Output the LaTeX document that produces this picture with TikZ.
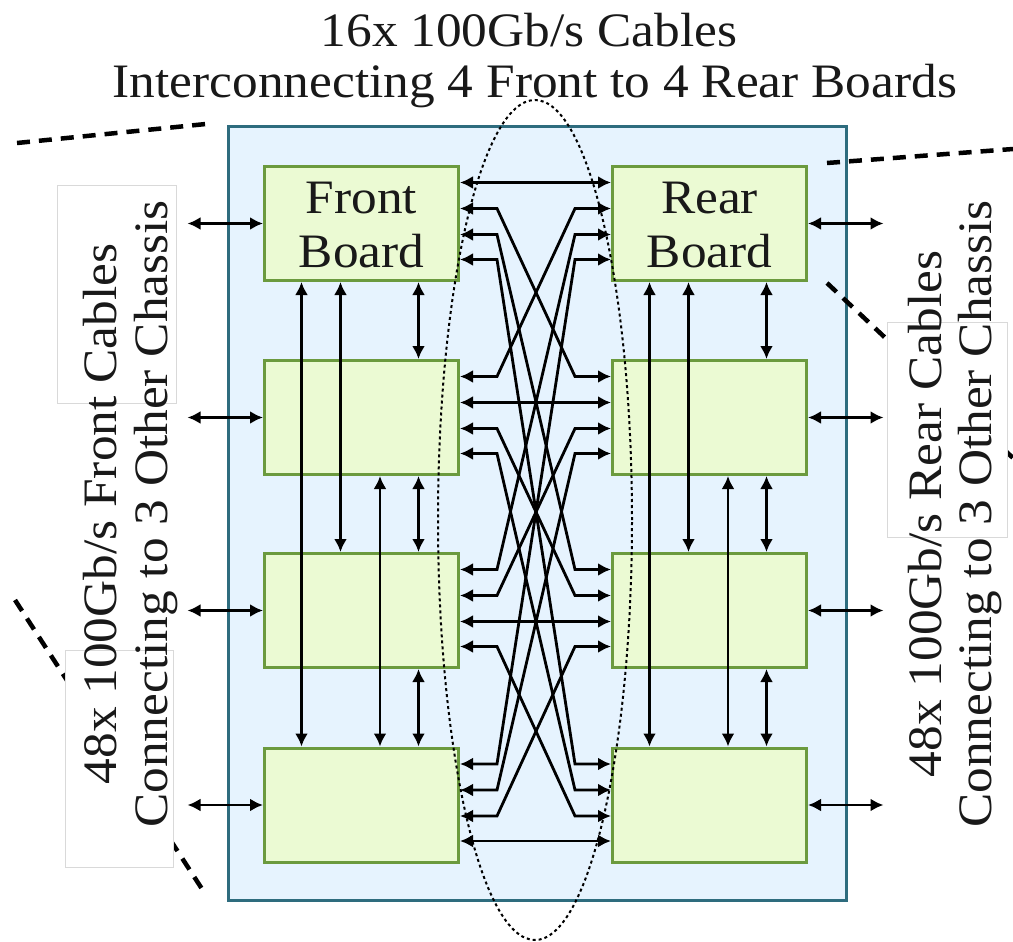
\documentclass[tikz,border=0pt]{standalone}
\usepackage{fontspec}
\setmainfont{Liberation Serif}[FakeStretch=1.07]
\usetikzlibrary{arrows.meta,calc}
\definecolor{boxblue}{HTML}{E6F3FE}
\definecolor{boxedge}{HTML}{2E6C7E}
\definecolor{brdfill}{HTML}{EBFAD3}
\definecolor{brdedge}{HTML}{6B9A3E}
\tikzset{
  board/.style={draw=brdedge, fill=brdfill, line width=3pt, minimum width=194pt, minimum height=114pt, inner sep=0pt},
  conn/.style={line width=2.8pt, {Latex[length=13pt,width=13pt]}-{Latex[length=13pt,width=13pt]}},
  callout/.style={line width=4.5pt, dash pattern=on 13pt off 9pt},
  labbox/.style={draw=black!15, line width=0.8pt, fill=white},
  ellip/.style={line width=2pt, dash pattern=on 3pt off 3pt},
  txt/.style={font=\fontsize{48}{51}\selectfont, text=black!90, inner sep=0pt},
}
\begin{document}
\begin{tikzpicture}[x=1pt,y=-1pt]
\useasboundingbox (0,0) rectangle (1013,942);
% chassis
\node[draw=boxedge, fill=boxblue, line width=3pt, minimum width=618pt, minimum height=774pt, inner sep=0pt] (chassis) at (537.5,513.5) {};
% callout lines
\coordinate (c1a) at (17,143); \coordinate (c1b) at (206,124);
\coordinate (c2a) at (827,163); \coordinate (c2b) at (1013,149);
\coordinate (c3a) at (827,283); \coordinate (c3b) at (1013,458);
\coordinate (c4a) at (15,600);  \coordinate (c4b) at (204,892);
\draw[callout] (c1a) -- (c1b);
\draw[callout] (c2a) -- (c2b);
\draw[callout] (c3a) -- (c3b);
\draw[callout] (c4a) -- (c4b);
% label boxes
\draw[labbox] (57,185) rectangle (176,403);
\draw[labbox] (65,650) rectangle (173,867);
\draw[labbox] (887,322) rectangle (1007,537);
% boards
\foreach \r/\y in {1/223.5,2/417.5,3/610.5,4/805}{
  \node[board] (F\r) at (361.5,\y) {};
  \node[board] (R\r) at (709.5,\y) {};
}
% ellipse
\draw[ellip] (535,520) ellipse [x radius=97pt, y radius=420pt];
% ports
\foreach \i in {1,...,4}{
  \foreach \j/\o in {1/17.5,2/43.5,3/69.5,4/94.5}{
    \coordinate (FP\i\j) at ($(F\i.north east)+(0,\o)$);
    \coordinate (RP\i\j) at ($(R\i.north west)+(0,\o)$);
  }
}
\coordinate (bendL) at (497,0);
\coordinate (bendR) at (575,0);
\foreach \i in {1,...,4}{
  \foreach \j in {1,...,4}{
    \ifnum\i=\j
      \draw[conn] (FP\i\j) -- (RP\j\i);
    \else
      \draw[conn] (FP\i\j) -- (FP\i\j -| bendL) -- (RP\j\i -| bendR) -- (RP\j\i);
    \fi
  }
}
% vertical links
\foreach \c in {F,R}{
  \draw[conn] ($(\c1.south west)+(38.5,0)$) -- ($(\c4.north west)+(38.5,0)$);
  \draw[conn] ($(\c1.south west)+(77.5,0)$) -- ($(\c3.north west)+(77.5,0)$);
  \draw[conn] ($(\c2.south west)+(117,0)$) -- ($(\c4.north west)+(117,0)$);
  \draw[conn] ($(\c1.south west)+(155.5,0)$) -- ($(\c2.north west)+(155.5,0)$);
  \draw[conn] ($(\c2.south west)+(155.5,0)$) -- ($(\c3.north west)+(155.5,0)$);
  \draw[conn] ($(\c3.south west)+(155.5,0)$) -- ($(\c4.north west)+(155.5,0)$);
}
% external links
\foreach \r in {1,...,4}{
  \path (F\r.west) ++(-75.5,0) coordinate (L\r);
  \path (R\r.east) ++(75.5,0) coordinate (E\r);
  \draw[conn] (L\r) -- (F\r.west);
  \draw[conn] (R\r.east) -- (E\r);
}
% texts
\node[txt, anchor=base] (t1) at (529,47) {16x 100Gb/s Cables};
\node[txt, anchor=base] (t2) at (535,98) {Interconnecting 4 Front to 4 Rear Boards};
\node[txt, anchor=base] (fb1) at (361.5,213) {Front};
\node[txt, anchor=base] (fb2) at (361.5,267) {Board};
\node[txt, anchor=base] (rb1) at (709.5,213) {Rear};
\node[txt, anchor=base] (rb2) at (709.5,267) {Board};
\node[txt, rotate=90, anchor=base] (sl1) at (116,514) {48x 100Gb/s Front Cables};
\node[txt, rotate=90, anchor=base] (sl2) at (167,514) {Connecting to 3 Other Chassis};
\node[txt, rotate=90, anchor=base] (sr1) at (941,514) {48x 100Gb/s Rear Cables};
\node[txt, rotate=90, anchor=base] (sr2) at (991,514) {Connecting to 3 Other Chassis};
\end{tikzpicture}
\end{document}
